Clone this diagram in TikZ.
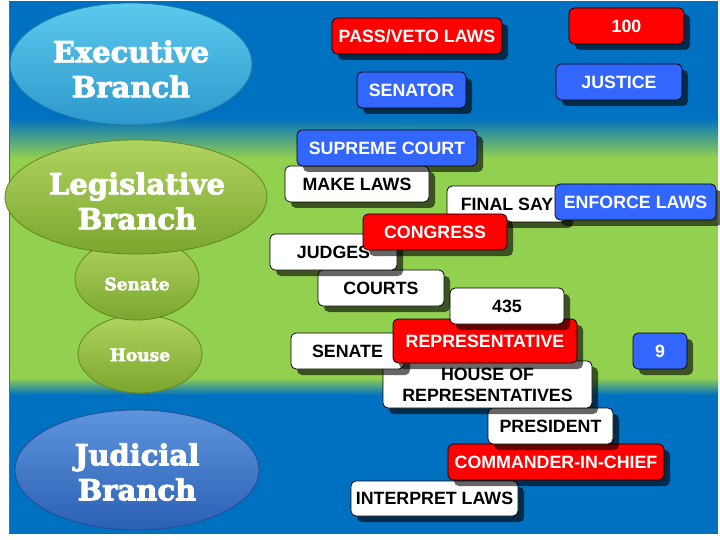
\documentclass[tikz,border=0pt]{standalone}
\usepackage{fontspec}
\setmainfont{Liberation Sans}
\newfontfamily\slab{DejaVu Serif}[BoldFont={DejaVu Serif Bold}, BoldFeatures={FakeBold=3}]
\usetikzlibrary{shapes.geometric,shadows}
\definecolor{bgblue}{HTML}{0070C0}
\definecolor{bggreen}{HTML}{92D050}
\definecolor{boxred}{HTML}{FF0000}
\definecolor{boxblue}{HTML}{3366FF}
\definecolor{exectop}{HTML}{5CCAEE}
\definecolor{execbot}{HTML}{2C98CC}
\definecolor{legtop}{HTML}{B0D460}
\definecolor{legbot}{HTML}{7AA62E}
\definecolor{judtop}{HTML}{5E94DE}
\definecolor{judbot}{HTML}{2C60B4}
\newcommand\bx[7]{\node[#2, minimum width={(#5)-(#3)}, minimum height={(#6)-(#4)}] (#1) at ({((#3)+(#5))/2},{((#4)+(#6))/2}) {#7};}
\begin{document}
\begin{tikzpicture}[x=1pt,y=-1pt,
  box/.style={draw=black, line width=0.8pt, rounded corners=5pt, inner sep=0pt, align=center,
    font=\fontsize{17.8}{21}\selectfont\bfseries,
    drop shadow={shadow xshift=6pt, shadow yshift=-6pt, fill=black, opacity=0.6}},
  redbox/.style={box, fill=boxred, text=white},
  bluebox/.style={box, fill=boxblue, text=white},
  whitebox/.style={box, fill=white, text=black},
  branch/.style={ellipse, inner sep=0pt, line width=0.8pt},
  btext/.style={text=white, align=center, inner sep=0pt, font=\slab\bfseries\fontsize{29}{35}\selectfont},
  stext/.style={btext, font=\slab\bfseries\fontsize{17}{20}\selectfont}
]
\useasboundingbox (0,0) rectangle (720,540);
\fill[white] (0,0) rectangle (720,540);
% background bands
\fill[bgblue] (9,1) rectangle (718,534);
\shade[top color=bgblue, bottom color=bggreen] (9,118) rectangle (718,158);
\fill[bggreen] (9,158) rectangle (718,378);
\shade[top color=bggreen, bottom color=bgblue] (9,378) rectangle (718,395);
\draw[black!60, line width=1pt] (9,1) -- (9,534);

% branch ellipses
\node[branch, minimum width=242pt, minimum height=122pt, top color=exectop, bottom color=execbot, draw=execbot!80!black] (exec) at (131,64) {};
\node[btext] (exec-t) at (131,69) {Executive\\Branch};
\node[branch, minimum width=124pt, minimum height=78pt, top color=legtop, bottom color=legbot, draw=legbot!80!black] (house) at (140,354) {};
\node[stext] (house-t) at (140,355) {House};
\node[branch, minimum width=124pt, minimum height=82pt, top color=legtop, bottom color=legbot, draw=legbot!80!black] (senate) at (137,279) {};
\node[stext] (senate-t) at (137,284) {Senate};
\node[branch, minimum width=262pt, minimum height=114pt, top color=legtop, bottom color=legbot, draw=legbot!80!black] (legis) at (136,197) {};
\node[btext] (legis-t) at (137,201) {Legislative\\Branch};
\node[branch, minimum width=244pt, minimum height=120pt, top color=judtop, bottom color=judbot, draw=judbot!80!black] (jud) at (137,470) {};
\node[btext] (jud-t) at (137,472) {Judicial\\Branch};

% term boxes
\bx{interp}{whitebox}{351}{481}{518}{516}{INTERPRET LAWS}
\bx{cic}{redbox}{448}{444}{664}{480}{COMMANDER-IN-CHIEF}
\bx{pres}{whitebox}{488}{408}{613}{444}{PRESIDENT}
\bx{hor}{whitebox}{383}{361}{592}{408}{HOUSE OF\\REPRESENTATIVES}
\bx{sen}{whitebox}{291}{333}{404}{369}{SENATE}
\bx{rep}{redbox}{393}{319}{577}{363}{REPRESENTATIVE}
\bx{n435}{whitebox}{450}{288}{564}{324}{435}
\bx{courts}{whitebox}{318}{270}{444}{306}{COURTS}
\bx{judges}{whitebox}{270}{234}{397}{270}{JUDGES}
\bx{final}{whitebox}{447}{186}{567}{222}{FINAL SAY}
\bx{congress}{redbox}{363}{214}{507}{250}{CONGRESS}
\bx{enforce}{bluebox}{555}{184}{716}{220}{ENFORCE LAWS}
\bx{make}{whitebox}{285}{166}{429}{202}{MAKE LAWS}
\bx{supreme}{bluebox}{297}{130}{477}{166}{SUPREME COURT}
\bx{nine}{bluebox}{633}{333}{687}{369}{9}
\bx{senator}{bluebox}{357}{72}{466}{108}{SENATOR}
\bx{justice}{bluebox}{556}{64}{682}{100}{JUSTICE}
\bx{pass}{redbox}{332}{18}{502}{54}{PASS/VETO LAWS}
\bx{hundred}{redbox}{569}{8}{684}{44}{100}
\end{tikzpicture}
\end{document}
